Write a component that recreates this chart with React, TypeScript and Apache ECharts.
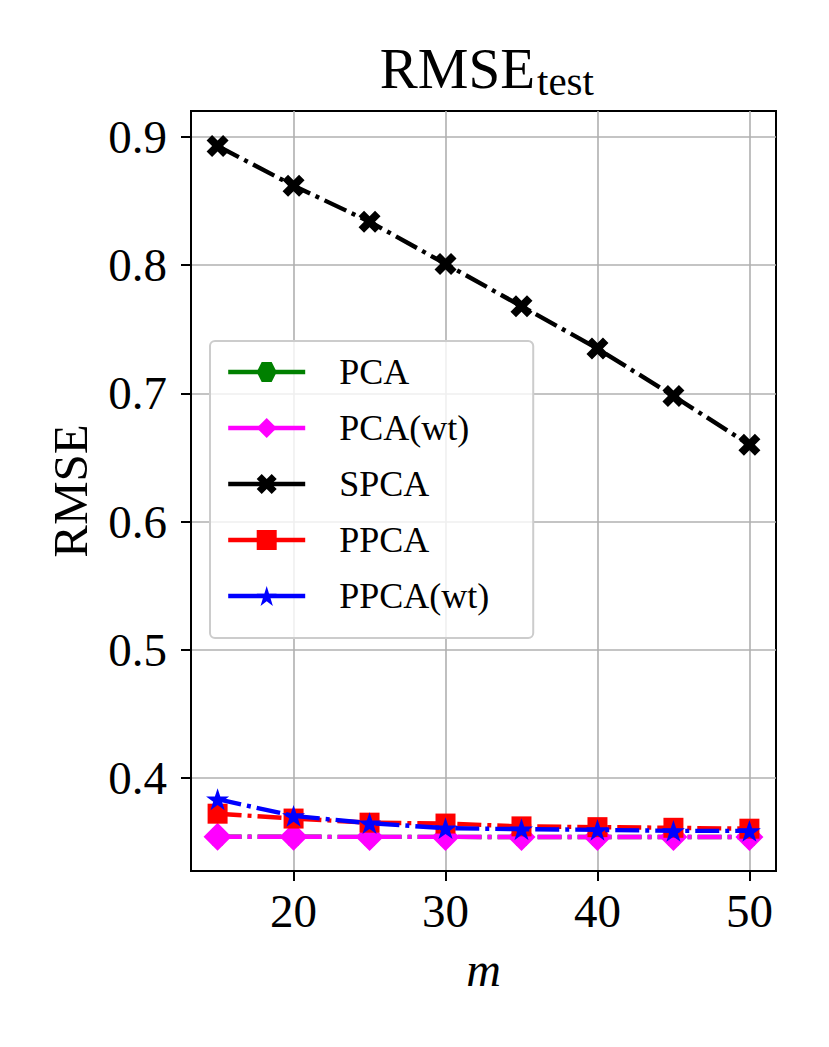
import React, { useEffect, useRef } from "react";
import * as echarts from "echarts";

// ---- data ----
const mValues = [15, 20, 25, 30, 35, 40, 45, 50];
const pca = [0.3542, 0.3542, 0.3541, 0.3541, 0.354, 0.354, 0.354, 0.354];
const pcaWt = [0.3542, 0.3542, 0.3541, 0.3541, 0.354, 0.354, 0.354, 0.354];
const spca = [0.893, 0.862, 0.834, 0.801, 0.768, 0.735, 0.698, 0.66];
const ppca = [0.3722, 0.3684, 0.3652, 0.3645, 0.3623, 0.3617, 0.3612, 0.3605];
const ppcaWt = [0.3835, 0.3705, 0.3648, 0.3609, 0.3601, 0.3596, 0.3588, 0.3588];
const xTicks = [20, 30, 40, 50];
const yTicks = [0.4, 0.5, 0.6, 0.7, 0.8, 0.9];
const seriesNames = ["PCA", "PCA(wt)", "SPCA", "PPCA", "PPCA(wt)"];

const FONT = "'Liberation Serif', 'Times New Roman', serif";

const HEX = "path://M-1,0L-0.5,-0.866L0.5,-0.866L1,0L0.5,0.866L-0.5,0.866Z";
const XMARK = "path://M-2,1L-1,2L0,1L1,2L2,1L1,0L2,-1L1,-2L0,-1L-1,-2L-2,-1L-1,0Z";
const STAR =
  "path://M0,-1L0.2245,-0.309L0.9511,-0.309L0.3633,0.118L0.5878,0.809L0,0.382L-0.5878,0.809L-0.3633,0.118L-0.9511,-0.309L-0.2245,-0.309Z";

const styles = [
  { color: "#008000", symbol: HEX, size: 20 },
  { color: "#ff00ff", symbol: "diamond", size: 28 },
  { color: "#000000", symbol: XMARK, size: 22 },
  { color: "#ff0000", symbol: "rect", size: 20 },
  { color: "#0000ff", symbol: STAR, size: 23 },
];
const seriesData = [pca, pcaWt, spca, ppca, ppcaWt];

export default function App() {
  const ref = useRef<HTMLDivElement>(null);
  useEffect(() => {
    if (!ref.current) return;
    const chart = echarts.init(ref.current, undefined, { renderer: "svg" });
    const series = seriesNames.map((name, k) => ({
      name,
      type: "line",
      data: mValues.map((m, i) => [m, seriesData[k][i]]),
      symbol: styles[k].symbol,
      symbolSize: styles[k].size,
      symbolKeepAspect: true,
      showSymbol: true,
      silent: true,
      z: 2 + k * 0.1,
      lineStyle: { color: styles[k].color, width: 4.4, type: [24, 6, 4, 6], cap: "butt" },
      itemStyle: { color: styles[k].color, borderWidth: 0 },
    }));
    chart.setOption({
      animation: false,
      backgroundColor: "#ffffff",
      grid: {
        left: 191,
        top: 111,
        width: 585,
        height: 760,
        show: true,
        borderColor: "#000000",
        borderWidth: 2,
        backgroundColor: "transparent",
        containLabel: false,
        outerBoundsMode: "none",
      },
      xAxis: {
        type: "value",
        min: 13.25,
        max: 51.75,
        name: "m",
        nameLocation: "middle",
        nameGap: 74,
        nameTextStyle: { fontFamily: FONT, fontSize: 48, fontStyle: "italic", color: "#000" },
        axisLine: { show: true, lineStyle: { color: "#000", width: 2 } },
        axisTick: { show: true, length: 10, inside: false, lineStyle: { color: "#000", width: 2 }, customValues: xTicks },
        axisLabel: {
          customValues: xTicks,
          margin: 16,
          fontFamily: FONT,
          fontSize: 47,
          color: "#000",
          formatter: (v: number) => String(v),
        },
        splitLine: { show: true, lineStyle: { color: "#b0b0b0", width: 1.6 } },
      },
      yAxis: {
        type: "value",
        min: 0.3275,
        max: 0.9203,
        name: "RMSE",
        nameLocation: "middle",
        nameGap: 96,
        nameRotate: 90,
        nameTextStyle: { fontFamily: FONT, fontSize: 49, color: "#000" },
        axisLine: { show: true, lineStyle: { color: "#000", width: 2 } },
        axisTick: { show: true, length: 10, inside: false, lineStyle: { color: "#000", width: 2 }, customValues: yTicks },
        axisLabel: {
          customValues: yTicks,
          margin: 24,
          fontFamily: FONT,
          fontSize: 47,
          color: "#000",
          formatter: (v: number) => v.toFixed(1),
        },
        splitLine: { show: true, lineStyle: { color: "#b0b0b0", width: 1.6 } },
      },
      legend: {
        orient: "vertical",
        left: 210,
        top: 341,
        padding: [13, 44, 24, 16],
        itemWidth: 77,
        itemHeight: 25,
        itemGap: 20,
        backgroundColor: "rgba(255,255,255,0.8)",
        borderColor: "#cccccc",
        borderWidth: 2,
        borderRadius: 5,
        data: seriesNames,
        lineStyle: { type: "solid", width: 4.4 },
        textStyle: {
          fontFamily: FONT,
          fontSize: 36,
          lineHeight: 32,
          color: "#000",
          padding: [0, 0, 0, 29],
        },
        selectedMode: false,
      },
      graphic: [
        {
          type: "text",
          x: 535,
          y: 68,
          style: {
            text: "RMSE",
            fontFamily: FONT,
            fontSize: 57,
            fill: "#000",
            textAlign: "right",
            textVerticalAlign: "middle",
          },
        },
        {
          type: "text",
          x: 537,
          y: 81,
          style: {
            text: "test",
            fontFamily: FONT,
            fontSize: 41,
            fill: "#000",
            textAlign: "left",
            textVerticalAlign: "middle",
          },
        },
      ],
      series,
    });
    return () => chart.dispose();
  }, []);
  return (
    <div
      ref={ref}
      style={{ position: "fixed", left: 0, top: 0, width: 829, height: 1047, background: "#fff" }}
    />
  );
}
